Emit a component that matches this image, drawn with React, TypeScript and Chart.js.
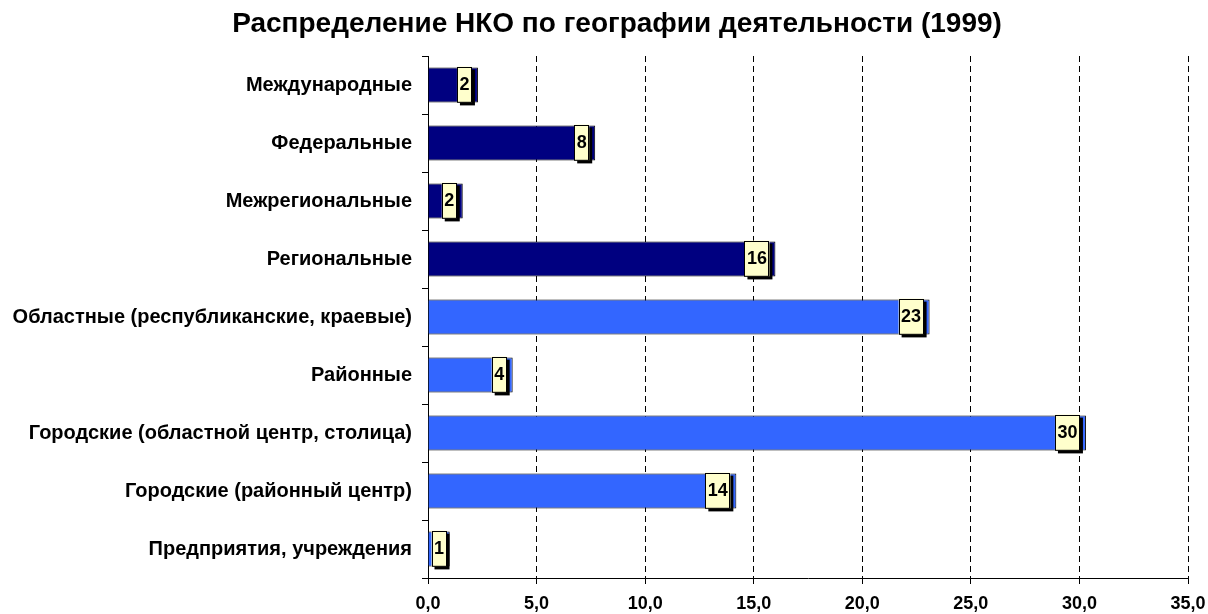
import React, { useEffect, useRef } from "react";
import { Chart, registerables } from "chart.js";

Chart.register(...registerables);

const categories = [
  "Международные",
  "Федеральные",
  "Межрегиональные",
  "Региональные",
  "Областные (республиканские, краевые)",
  "Районные",
  "Городские (областной центр, столица)",
  "Городские (районный центр)",
  "Предприятия, учреждения",
];
const values = [2.3, 7.7, 1.6, 16.0, 23.1, 3.9, 30.3, 14.2, 1.0];
const valueLabels = ["2", "8", "2", "16", "23", "4", "30", "14", "1"];
const barColors = [
  "#000080", "#000080", "#000080", "#000080",
  "#3366FF", "#3366FF", "#3366FF", "#3366FF", "#3366FF",
];
const xTicks = [0, 5, 10, 15, 20, 25, 30, 35];
const title = "Распределение НКО по географии деятельности (1999)";

const FONT = "'Liberation Sans', Arial, sans-serif";

const titlePlugin = {
  id: "customTitle",
  afterDraw(chart: any) {
    const ctx = chart.ctx;
    ctx.save();
    ctx.font = `bold 28px ${FONT}`;
    ctx.fillStyle = "#000";
    ctx.textAlign = "center";
    ctx.textBaseline = "middle";
    ctx.fillText(title, 617, 24);
    ctx.restore();
  },
};

const labelBoxPlugin = {
  id: "labelBoxes",
  afterDatasetsDraw(chart: any) {
    const ctx = chart.ctx;
    const meta = chart.getDatasetMeta(0);
    ctx.save();
    ctx.font = `bold 18px ${FONT}`;
    meta.data.forEach((bar: any, i: number) => {
      const text = valueLabels[i];
      const tw = ctx.measureText(text).width;
      const w = Math.round(tw + 5);
      const top = bar.y - bar.height / 2 - 1;
      const h = bar.height + 1;
      let right = bar.x - 6;
      let left = right - w;
      if (left < bar.base + 3) {
        left = bar.base + 3;
        right = left + w;
      }
      ctx.fillStyle = "#000";
      ctx.fillRect(left + 3, top + 3, w, h);
      ctx.fillStyle = "#FFFFCC";
      ctx.fillRect(left, top, w, h);
      ctx.strokeStyle = "#000";
      ctx.lineWidth = 1;
      ctx.strokeRect(Math.round(left) + 0.5, Math.round(top) + 0.5, w - 1, h - 1);
      ctx.fillStyle = "#000";
      ctx.textAlign = "center";
      ctx.textBaseline = "middle";
      ctx.fillText(text, left + w / 2, top + h / 2 + 1);
    });
    ctx.restore();
  },
};

export default function App() {
  const ref = useRef<HTMLCanvasElement | null>(null);
  useEffect(() => {
    if (!ref.current) return;
    const chart = new Chart(ref.current, {
      type: "bar",
      data: {
        labels: categories,
        datasets: [
          {
            data: values,
            backgroundColor: barColors,
            borderColor: "#000",
            borderWidth: 1,
            borderSkipped: "start",
            barPercentage: 0.6,
            categoryPercentage: 1,
          },
        ],
      },
      options: {
        indexAxis: "y",
        animation: false,
        responsive: false,
        devicePixelRatio: 1,
        layout: { padding: { left: 0, right: 20, top: 56, bottom: 0 } },
        plugins: {
          legend: { display: false },
          tooltip: { enabled: false },
          title: { display: false },
        },
        scales: {
          x: {
            min: 0,
            max: 35,
            afterBuildTicks(scale: any) {
              scale.ticks = xTicks.map((v) => ({ value: v }));
            },
            afterFit(scale: any) {
              scale.height = 36;
              scale.paddingLeft = 0;
              scale.paddingRight = 0;
            },
            ticks: {
              color: "#000",
              font: { family: FONT, size: 18, weight: "bold" },
              padding: 9,
              maxRotation: 0,
              callback: (v: any) => Number(v).toFixed(1).replace(".", ","),
            },
            grid: {
              color: "#000",
              lineWidth: 1,
              tickLength: 6,
              tickColor: "#000",
              tickBorderDash: [],
            },
            border: { display: true, color: "#000", width: 1, dash: [6, 4] },
          },
          y: {
            afterFit(scale: any) {
              scale.width = 428;
              scale.paddingTop = 0;
              scale.paddingBottom = 0;
            },
            ticks: {
              color: "#000",
              font: { family: FONT, size: 20, weight: "bold" },
              padding: 10,
            },
            grid: {
              drawOnChartArea: false,
              offset: true,
              tickLength: 6,
              tickColor: "#000",
            },
            border: { display: true, color: "#000", width: 1 },
          },
        },
      },
      plugins: [labelBoxPlugin, titlePlugin],
    } as any);
    return () => chart.destroy();
  }, []);
  return (
    <div style={{ position: "fixed", left: 0, top: 0, width: 1208, height: 614, background: "#fff" }}>
      <canvas ref={ref} width={1208} height={614} />
    </div>
  );
}
